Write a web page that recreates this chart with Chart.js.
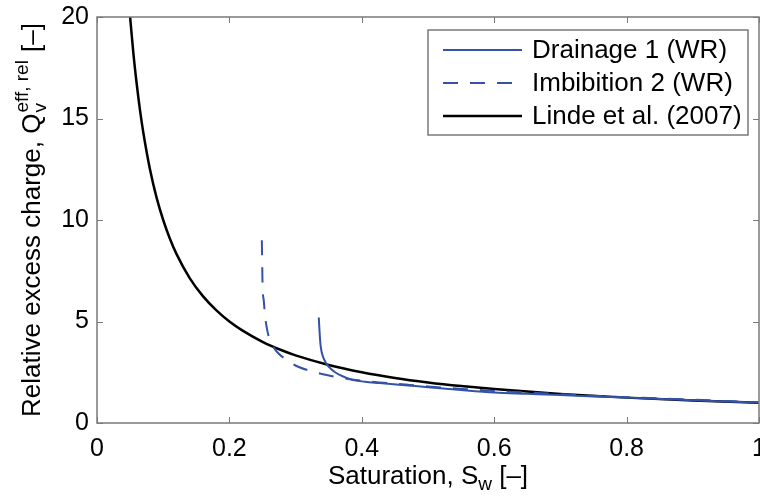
<!DOCTYPE html>
<html>
<head>
<meta charset="utf-8">
<script src="https://cdn.jsdelivr.net/npm/chart.js@4"></script>
<style>
  html, body { margin: 0; padding: 0; background: #fff; }
  #wrap { width: 760px; height: 500px; position: relative; }
</style>
</head>
<body>
<div id="wrap"><canvas id="chart"></canvas></div>
<script>
// Values
const lindeSw = [0.05, 0.055, 0.06, 0.065, 0.07, 0.08, 0.09, 0.1, 0.11, 0.12, 0.14, 0.16, 0.18, 0.2, 0.22, 0.25, 0.28, 0.3, 0.35, 0.4, 0.45, 0.5, 0.55, 0.6, 0.7, 0.8, 0.9, 1.0];
const lindeQ = [20, 18.2, 16.7, 15.4, 14.3, 12.5, 11.1, 10, 9.09, 8.33, 7.14, 6.25, 5.56, 5.0, 4.55, 4.0, 3.57, 3.33, 2.86, 2.5, 2.22, 2.0, 1.82, 1.67, 1.43, 1.25, 1.11, 1.0];

const drainSw = [0.335, 0.336, 0.337, 0.338, 0.341, 0.347, 0.354, 0.362, 0.375, 0.387, 0.405, 0.427, 0.47, 0.5, 0.55, 0.6, 0.65, 0.7, 0.75, 0.8, 0.85, 0.9, 0.95, 1.0];
const drainQ = [5.2, 4.6, 4.1, 3.75, 3.3, 2.9, 2.65, 2.45, 2.25, 2.12, 2.03, 1.97, 1.85, 1.76, 1.62, 1.5, 1.44, 1.38, 1.31, 1.25, 1.18, 1.12, 1.06, 1.01];

const imbSw = [0.249, 0.2495, 0.25, 0.252, 0.254, 0.257, 0.261, 0.266, 0.275, 0.287, 0.304, 0.327, 0.347, 0.37, 0.4, 0.427, 0.47, 0.5, 0.55, 0.6, 0.65, 0.7, 0.75, 0.8, 0.85, 0.9, 0.95, 1.0];
const imbQ = [9.0, 8.0, 6.9, 6.0, 5.24, 4.6, 4.09, 3.76, 3.4, 3.1, 2.77, 2.53, 2.36, 2.22, 2.08, 2.0, 1.88, 1.8, 1.68, 1.58, 1.5, 1.42, 1.34, 1.27, 1.21, 1.15, 1.08, 1.02];

const xTicks = [0, 0.2, 0.4, 0.6, 0.8, 1];
const xTickLabels = ['0', '0.2', '0.4', '0.6', '0.8', '1'];
const yTicks = [0, 5, 10, 15, 20];
const seriesNames = ['Drainage 1 (WR)', 'Imbibition 2 (WR)', 'Linde et al. (2007)'];

const FONT = '"Liberation Sans", Arial, Helvetica, sans-serif';
const BLUE = '#3352a8';
const AXIS = '#7a7a7a';
const DASH = [15, 12];

function toPoints(xs, ys) {
    return xs.map((x, i) => ({ x: x, y: ys[i] }));
}

// Text with sub/superscripts, laid out along one baseline
function measureRich(ctx, parts) {
    let w = 0;
    parts.forEach(p => {
        if (p.stack) {
            ctx.font = '19px ' + FONT;
            w += Math.max(ctx.measureText(p.sup).width, ctx.measureText(p.sub).width) + 2;
        } else {
            ctx.font = (p.size || 26) + 'px ' + FONT;
            w += ctx.measureText(p.text).width;
        }
    });
    return w;
}

function drawRich(ctx, parts, x, y) {
    parts.forEach(p => {
        if (p.stack) {
            ctx.font = '19px ' + FONT;
            const w = Math.max(ctx.measureText(p.sup).width, ctx.measureText(p.sub).width);
            if (p.sup) ctx.fillText(p.sup, x + 1, y - 12);
            if (p.sub) ctx.fillText(p.sub, x + 1, y + 6);
            x += w + 2;
        } else {
            ctx.font = (p.size || 26) + 'px ' + FONT;
            ctx.fillText(p.text, x, y + (p.shift || 0));
            x += ctx.measureText(p.text).width;
        }
    });
}

const matlabFrame = {
    id: 'matlabFrame',
    afterDatasetsDraw(chart) {
        const ctx = chart.ctx;
        const a = chart.chartArea;
        const xs = chart.scales.x, ys = chart.scales.y;
        ctx.save();
        ctx.strokeStyle = AXIS;
        ctx.lineWidth = 1.5;
        ctx.strokeRect(a.left, a.top, a.right - a.left, a.bottom - a.top);
        ctx.beginPath();
        xTicks.forEach(v => {
            const px = Math.round(xs.getPixelForValue(v)) + 0.5;
            ctx.moveTo(px, a.bottom); ctx.lineTo(px, a.bottom - 6);
            ctx.moveTo(px, a.top); ctx.lineTo(px, a.top + 6);
        });
        yTicks.forEach(v => {
            const py = Math.round(ys.getPixelForValue(v)) + 0.5;
            ctx.moveTo(a.left, py); ctx.lineTo(a.left + 6, py);
            ctx.moveTo(a.right, py); ctx.lineTo(a.right - 6, py);
        });
        ctx.lineWidth = 1;
        ctx.stroke();
        ctx.restore();
    },
    afterDraw(chart) {
        const ctx = chart.ctx;
        const a = chart.chartArea;
        ctx.save();
        ctx.fillStyle = '#000';
        ctx.textBaseline = 'alphabetic';
        ctx.textAlign = 'left';

        // x axis title
        const xParts = [{ text: 'Saturation, S' }, { text: 'w', size: 19, shift: 6 }, { text: ' [\u2013]' }];
        const xw = measureRich(ctx, xParts);
        drawRich(ctx, xParts, (a.left + a.right) / 2 - xw / 2, 484);

        // y axis title (rotated)
        const yParts = [{ text: 'Relative excess charge, Q' }, { stack: true, sup: 'eff, rel', sub: 'v' }, { text: ' [\u2013]' }];
        const yw = measureRich(ctx, yParts);
        ctx.save();
        ctx.translate(40, (a.top + a.bottom) / 2);
        ctx.rotate(-Math.PI / 2);
        drawRich(ctx, yParts, -yw / 2, 0);
        ctx.restore();

        // legend
        const lx = 428, ly = 30, lw = 320, lh = 105;
        ctx.fillStyle = '#fff';
        ctx.fillRect(lx, ly, lw, lh);
        ctx.strokeStyle = AXIS;
        ctx.lineWidth = 1.5;
        ctx.strokeRect(lx, ly, lw, lh);
        const rows = [50, 83, 116];
        chart.data.datasets.forEach((ds, i) => {
            ctx.beginPath();
            ctx.strokeStyle = ds.borderColor;
            ctx.lineWidth = ds.borderWidth;
            ctx.setLineDash(ds.borderDash || []);
            ctx.moveTo(443, rows[i]);
            ctx.lineTo(522, rows[i]);
            ctx.stroke();
            ctx.setLineDash([]);
            ctx.fillStyle = '#000';
            ctx.font = '26px ' + FONT;
            ctx.textBaseline = 'middle';
            ctx.fillText(seriesNames[i], 532, rows[i] + 1);
        });
        ctx.restore();
    }
};

new Chart(document.getElementById('chart'), {
    type: 'line',
    data: {
        datasets: [
            {
                label: seriesNames[0],
                data: toPoints(drainSw, drainQ),
                borderColor: BLUE,
                borderWidth: 2,
                cubicInterpolationMode: 'monotone'
            },
            {
                label: seriesNames[1],
                data: toPoints(imbSw, imbQ),
                borderColor: BLUE,
                borderWidth: 2,
                borderDash: DASH,
                cubicInterpolationMode: 'monotone'
            },
            {
                label: seriesNames[2],
                data: toPoints(lindeSw, lindeQ),
                borderColor: '#000',
                borderWidth: 2.5,
                cubicInterpolationMode: 'monotone'
            }
        ]
    },
    options: {
        responsive: true,
        maintainAspectRatio: false,
        animation: false,
        layout: { padding: { top: 17, right: 1, left: 0, bottom: 0 } },
        elements: { point: { radius: 0 } },
        plugins: {
            legend: { display: false },
            tooltip: { enabled: false }
        },
        scales: {
            x: {
                type: 'linear',
                min: 0,
                max: 1,
                border: { display: false },
                grid: { display: false, drawTicks: false },
                afterBuildTicks(scale) {
                    scale.ticks = xTicks.map(v => ({ value: v }));
                },
                ticks: {
                    padding: 11,
                    color: '#000',
                    font: { family: FONT, size: 25 },
                    maxRotation: 0,
                    autoSkip: false,
                    callback: function(value) {
                        const i = xTicks.indexOf(value);
                        return i >= 0 ? xTickLabels[i] : '';
                    }
                },
                afterFit(scale) {
                    scale.height = 77;
                    scale.paddingLeft = 0;
                    scale.paddingRight = 0;
                }
            },
            y: {
                min: 0,
                max: 20,
                border: { display: false },
                grid: { display: false, drawTicks: false },
                ticks: {
                    stepSize: 5,
                    padding: 8,
                    color: '#000',
                    font: { family: FONT, size: 25 }
                },
                afterFit(scale) {
                    scale.width = 97;
                    scale.paddingTop = 0;
                    scale.paddingBottom = 0;
                }
            }
        }
    },
    plugins: [matlabFrame]
});
</script>
</body>
</html>
